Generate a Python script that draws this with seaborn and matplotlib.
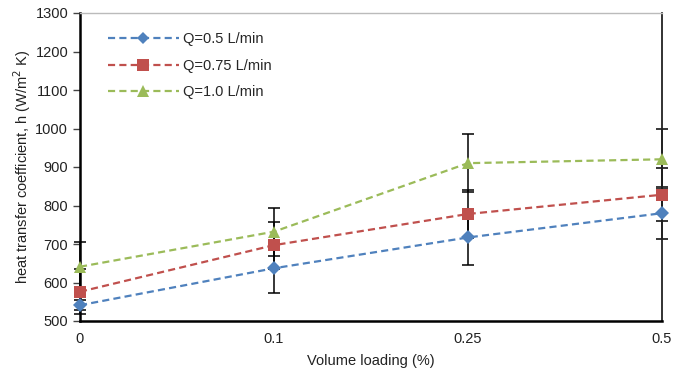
import matplotlib
matplotlib.use("Agg")
import matplotlib.pyplot as plt
import seaborn as sns
import pandas as pd
import numpy as np

categories = ["0", "0.1", "0.25", "0.5"]
series_names = ["Q=0.5 L/min", "Q=0.75 L/min", "Q=1.0 L/min"]
h_q05 = [541, 637, 717, 780]
h_q075 = [576, 697, 778, 828]
h_q10 = [641, 732, 910, 920]
err_q05 = [13, 65, 72, 68]
err_q075 = [59, 61, 62, 69]
err_q10 = [65, 62, 75, 78]

values = [h_q05, h_q075, h_q10]
errors = [err_q05, err_q075, err_q10]
colors = ["#4F81BD", "#C0504D", "#9BBB59"]
markers = ["D", "s", "^"]
msizes = [7, 9, 9]

rows = []
for name, vals, errs in zip(series_names, values, errors):
    for i, (c, v, e) in enumerate(zip(categories, vals, errs)):
        rows.append({"pos": i, "cat": c, "h": v, "err": e, "series": name})
df = pd.DataFrame(rows)

sns.set_style("white")
plt.rcParams["font.family"] = ["Liberation Sans", "DejaVu Sans"]

fig = plt.figure(figsize=(6.91, 3.76), dpi=100)
ax = fig.add_axes([80 / 691, 1 - 321 / 376, (662 - 80) / 691, (321 - 13) / 376])

sns.lineplot(data=df, x="pos", y="h", hue="series", style="series",
             hue_order=series_names, style_order=series_names,
             palette=colors, markers=markers, dashes=[(3.2, 1.9)] * 3,
             linewidth=1.6, markeredgewidth=0, ax=ax, zorder=3,
             legend=True)
data_lines = list(ax.get_lines())
for line, ms in zip(data_lines, msizes):
    line.set_markersize(ms)
    line.set_clip_on(False)

# error bars (behind markers)
for name in series_names:
    sub = df[df["series"] == name]
    ax.errorbar(sub["pos"], sub["h"], yerr=sub["err"], fmt="none",
                ecolor="black", elinewidth=1.1, capsize=4, capthick=1.1,
                zorder=2, clip_on=False)

ax.set_xlim(0, 3)
ax.set_ylim(500, 1300)
ax.set_yticks(np.arange(500, 1301, 100))
ax.set_xticks(df["pos"].unique())
ax.set_xticklabels(categories)
ax.tick_params(axis="both", labelsize=10.5, colors="#222222")
ax.tick_params(axis="y", direction="out", length=5, width=1, left=True, color="#444444")
ax.tick_params(axis="x", direction="out", length=0, pad=8)

ax.set_xlabel("Volume loading (%)", fontsize=10.5, color="#222222", labelpad=6)
ax.set_ylabel("heat transfer coefficient, h (W/m$^2$ K)", fontsize=10.5,
              color="#222222", labelpad=2)

for s in ["left", "bottom"]:
    ax.spines[s].set_color("black")
    ax.spines[s].set_linewidth(1.8)
ax.spines["top"].set_color("#BBBBBB")
ax.spines["top"].set_linewidth(1)
ax.spines["right"].set_color("#222222")
ax.spines["right"].set_linewidth(1.3)

handles, labels = ax.get_legend_handles_labels()
for hnd, ms in zip(handles, msizes):
    hnd.set_markersize(ms - 1)
leg = ax.legend(handles, labels, loc="upper left", bbox_to_anchor=(0.025, 0.98),
                frameon=False, fontsize=10.5, handlelength=4.9, labelspacing=0.85,
                handletextpad=0.25)

fig.savefig("out.png", dpi=100)
